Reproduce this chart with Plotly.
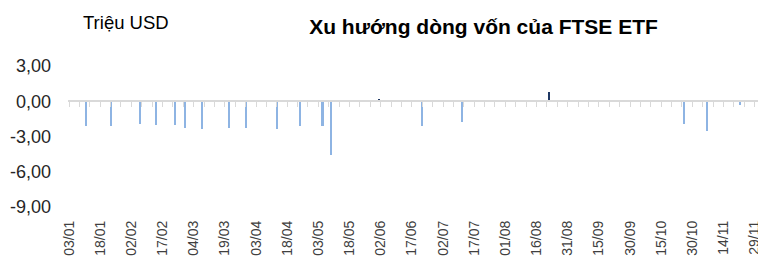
import plotly.graph_objects as go

# Data (million USD, daily flows)
dates = ["2019-01-11", "2019-01-23", "2019-02-06", "2019-02-14", "2019-02-23",
         "2019-02-28", "2019-03-08", "2019-03-21", "2019-03-29", "2019-04-13",
         "2019-04-24", "2019-05-05", "2019-05-09", "2019-06-01", "2019-06-22",
         "2019-07-11", "2019-08-22", "2019-10-26", "2019-11-06", "2019-11-22"]
flows = [-2.13, -2.13, -1.93, -2.00, -2.00,
         -2.24, -2.33, -2.24, -2.24, -2.33,
         -2.13, -2.13, -4.54, 0.18, -2.13,
         -1.79, 0.80, -1.93, -2.56, -0.34]

y_tickvals = [3, 0, -3, -6, -9]
y_ticktext = ["3,00", "0,00", "-3,00", "-6,00", "-9,00"]

title_text = "Xu hướng dòng vốn của FTSE ETF"
unit_text = "Triệu USD"

LIGHT = "#8EB4E3"
DARK = "#1F3864"
colors = [DARK if v > 0 else LIGHT for v in flows]

DAY = 86400000
x_range = ["2019-01-02 12:00", "2019-11-30 14:00"]

fig = go.Figure()
fig.add_trace(go.Bar(
    x=dates, y=flows, marker_color=colors, marker_line_width=0,
    width=1.0 * DAY, showlegend=False, xaxis="x",
))
# invisible companion trace so the zero-line axis (x2) is rendered
fig.add_trace(go.Scatter(
    x=dates[:1], y=[0], xaxis="x2", mode="markers",
    marker=dict(opacity=0), hoverinfo="skip", showlegend=False,
))

# page body has an 8px margin, so the figure is offset by 8px
OFF = 8
W, H = 766 - OFF, 257 - OFF
ml, mr, mt, mb = 60, 8, 58, 50
pw = W - ml - mr
ph = H - mt - mb

fig.update_layout(
    width=W, height=H,
    margin=dict(l=ml, r=mr, t=mt, b=mb, pad=0, autoexpand=False),
    paper_bgcolor="white", plot_bgcolor="white",
    font=dict(family="Liberation Sans, Arial, sans-serif", color="#262626"),
    title=dict(text="<b>" + title_text + "</b>", xref="container", yref="container",
               x=(483.5 - OFF) / W, y=1 - (27 - OFF) / H, xanchor="center",
               yanchor="middle", font=dict(size=21, color="#000000")),
    bargap=0,
    xaxis=dict(type="date", range=x_range, tick0="2019-01-03", dtick=15 * DAY,
               tickformat="%d/%m", tickangle=-90, showgrid=False, zeroline=False,
               showline=False, ticks="", ticklabelstandoff=10, automargin=False,
               tickfont=dict(size=14, color="#404040")),
    xaxis2=dict(type="date", range=x_range, overlaying="x", matches="x",
                anchor="free", position=0.75, side="bottom", automargin=False,
                tick0="2019-01-03", dtick=5 * DAY, showticklabels=False,
                showgrid=False, zeroline=False, showline=True,
                linecolor="#D9D9D9", linewidth=2, ticks="outside", ticklen=5,
                tickwidth=1, tickcolor="#D9D9D9"),
    yaxis=dict(range=[-9, 3], tickvals=y_tickvals, ticktext=y_ticktext,
               showgrid=False, zeroline=False, showline=False, ticks="",
               ticklabelstandoff=16, automargin=False,
               tickfont=dict(size=18, color="#262626")),
    annotations=[dict(text=unit_text, xref="paper", yref="paper",
                      x=(126 - OFF - ml) / pw, y=(H - mb - (22 - OFF)) / ph,
                      xanchor="center", yanchor="middle", showarrow=False,
                      font=dict(size=18.5, color="#000000"))],
)

fig.write_html("out.html")
